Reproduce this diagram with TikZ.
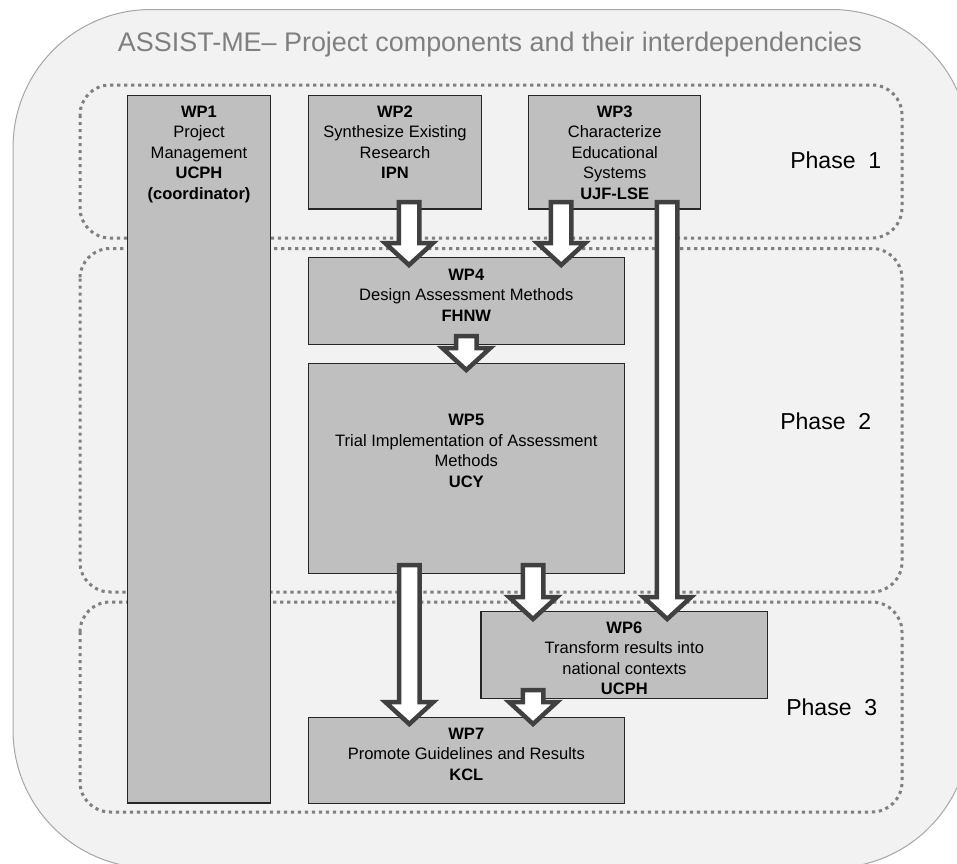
\documentclass[tikz,border=0pt]{standalone}
\usepackage{fontspec}
\setmainfont{Liberation Sans}
\usetikzlibrary{calc}

% one screen pixel
\newdimen\px \px=0.75pt

\definecolor{panelfill}{HTML}{F2F2F2}
\definecolor{panelline}{HTML}{A6A6A6}
\definecolor{titlegray}{HTML}{7F7F7F}
\definecolor{phaseline}{HTML}{808080}
\definecolor{boxfill}{HTML}{BFBFBF}
\definecolor{boxline}{HTML}{262626}
\definecolor{arrowline}{HTML}{404040}

% work-package text: fixed-size box, text hung from the top
\newcommand\wpbody[4]{%
  \parbox[b][#2][t]{#1}{\centering\fontsize{12.4pt}{15.4pt}\selectfont
    \rule{0pt}{#3}#4\par}}

% hollow block arrow from a start point straight down to a tip
\newcommand\blockarrow[2]{%
  \draw[barrow] let \p1=#1, \p2=#2 in
    (\x1-7.69pt,\y1) -- (\x1+7.69pt,\y1) -- (\x1+7.69pt,\y2+16.5pt)
    -- (\x1+18pt,\y2+16.5pt) -- (\x1,\y2) -- (\x1-18pt,\y2+16.5pt)
    -- (\x1-7.69pt,\y2+16.5pt) -- cycle;}

\tikzset{
  outerpanel/.style={fill=panelfill, draw=panelline, line width=1\px,
    rounded corners=138\px},
  phasebox/.style={draw=phaseline, line width=3\px,
    dash pattern=on 2.4pt off 2.85pt, rounded corners=30\px},
  wpbox/.style={draw=boxline, fill=boxfill, line width=1.3\px,
    inner sep=0pt, outer sep=0pt, anchor=north west},
  barrow/.style={draw=arrowline, fill=white, line width=4.5\px,
    line join=miter},
  titletext/.style={text=titlegray, font=\fontsize{20.2pt}{24pt}\selectfont,
    anchor=base, inner sep=0pt},
  phasetext/.style={text=black, font=\fontsize{17.3pt}{20pt}\selectfont,
    anchor=base west, inner sep=0pt},
}

\begin{document}
\begin{tikzpicture}[x=0.75pt,y=-0.75pt]
\useasboundingbox (0,0) rectangle (957,864);

% background panel, running off the right and bottom edges
\begin{scope}
  \clip (0,0) rectangle (957,864);
  \draw[outerpanel] (13,9.5) rectangle (969.6,868);
\end{scope}

\node[titletext] (title) at (490,51.7)
  {ASSIST-ME– Project components and their interdependencies};

% phase frames
\draw[phasebox] (80,85)  rectangle (902,238);
\draw[phasebox] (80,248.5) rectangle (902,592);
\draw[phasebox] (80,602) rectangle (902,812);

\node[phasetext] (ph1) at (790,168.3) {Phase~~1};
\node[phasetext] (ph2) at (780,429.3) {Phase~~2};
\node[phasetext] (ph3) at (786,715)   {Phase~~3};

% work packages
\node[wpbox] (wp1) at (127.5,95.3) {\wpbody{143\px}{707.7\px}{22\px}%
  {\textbf{WP1}\\Project\\Management\\\textbf{UCPH}\\\textbf{(coordinator)}}};
\node[wpbox] (wp2) at (308.3,95.3) {\wpbody{173.4\px}{113.7\px}{22\px}%
  {\textbf{WP2}\\Synthesize Existing\\Research\\\textbf{IPN}}};
\node[wpbox] (wp3) at (528.7,95.3) {\wpbody{172\px}{113.7\px}{22\px}%
  {\textbf{WP3}\\Characterize\\Educational\\Systems\\\textbf{UJF-LSE}}};
\node[wpbox] (wp4) at (308.3,257.7) {\wpbody{316\px}{86.6\px}{22.3\px}%
  {\textbf{WP4}\\Design Assessment Methods\\\textbf{FHNW}}};
\node[wpbox] (wp5) at (308.3,363.3) {\wpbody{316\px}{210\px}{62.4\px}%
  {\textbf{WP5}\\Trial Implementation of Assessment\\Methods\\\textbf{UCY}}};
\node[wpbox] (wp6) at (481,611.7) {\wpbody{286.7\px}{86.6\px}{21.5\px}%
  {\textbf{WP6}\\Transform results into\\national contexts\\\textbf{UCPH}}};
\node[wpbox] (wp7) at (308.3,717.3) {\wpbody{316\px}{86\px}{21.7\px}%
  {\textbf{WP7}\\Promote Guidelines and Results\\\textbf{KCL}}};

% arrow end points
\coordinate (a1s) at ($(wp2.south)+(14,-7)$);
\coordinate (a1t) at ($(a1s |- wp4.north)+(0,7.3)$);
\coordinate (a2s) at ($(wp3.south)+(-53.5,-7)$);
\coordinate (a2t) at ($(a2s |- wp4.north)+(0,7.3)$);
\coordinate (a3s) at ($(wp3.south)+(52.5,-7)$);
\coordinate (a3t) at ($(a3s |- wp6.north)+(0,7.3)$);
\coordinate (a4s) at ($(wp4.south)+(0,-8.3)$);
\coordinate (a4t) at ($(a4s |- wp5.north)+(0,6.7)$);
\coordinate (a5s) at ($(wp5.south)+(-57,-8.3)$);
\coordinate (a5t) at ($(a5s |- wp7.north)+(0,6.7)$);
\coordinate (a6s) at ($(wp5.south)+(66.7,-8.3)$);
\coordinate (a6t) at ($(a6s |- wp6.north)+(0,7.3)$);
\coordinate (a7s) at ($(wp6.south)+(-91.3,-8.3)$);
\coordinate (a7t) at ($(a7s |- wp7.north)+(0,6.7)$);

% dependencies
\blockarrow{(a1s)}{(a1t)}
\blockarrow{(a2s)}{(a2t)}
\blockarrow{(a3s)}{(a3t)}
\blockarrow{(a4s)}{(a4t)}
\blockarrow{(a5s)}{(a5t)}
\blockarrow{(a6s)}{(a6t)}
\blockarrow{(a7s)}{(a7t)}
\end{tikzpicture}
\end{document}
